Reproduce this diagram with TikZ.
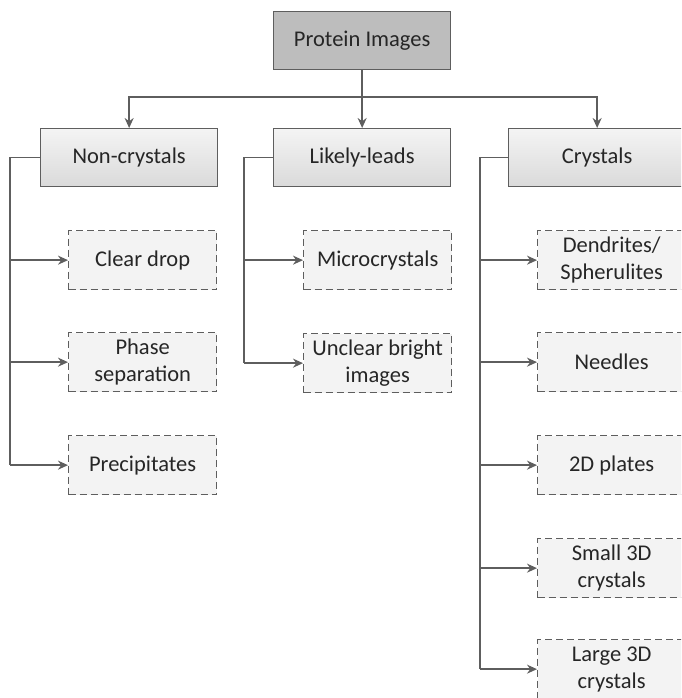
\documentclass[tikz,border=0pt]{standalone}
\usepackage{fontspec}
\setmainfont{Carlito}
\usetikzlibrary{arrows.meta}
\definecolor{edge}{HTML}{5E5E5E}
\definecolor{topfill}{HTML}{BDBDBD}
\definecolor{midtop}{HTML}{F4F4F4}
\definecolor{midbot}{HTML}{DADADA}
\definecolor{leaffill}{HTML}{F3F3F3}
\definecolor{txt}{HTML}{262626}
\tikzset{
  base/.style={draw=edge, line width=1.3pt, text=txt, align=center,
    font=\fontsize{22.5}{27}\selectfont, inner sep=0pt, anchor=north west},
  rootbox/.style={base, fill=topfill, minimum width=177pt, minimum height=58pt},
  catbox/.style={base, top color=midtop, bottom color=midbot, minimum width=177pt, minimum height=58pt},
  leafbox/.style={base, dashed, dash pattern=on 7pt off 4pt, fill=leaffill, minimum width=148pt, minimum height=59pt},
  conn/.style={draw=edge, line width=1.5pt},
  arr/.style={conn, -{Stealth[length=10pt,width=9pt]}}
}
\begin{document}
\begin{tikzpicture}[x=1pt,y=-1pt]
\useasboundingbox (0,0) rectangle (681,698);
\clip (0,0) rectangle (681,698);
\fill[white] (0,0) rectangle (681,698);

\node[rootbox] (root) at (273,11) {Protein Images};
\node[catbox] (non) at (40,128) {Non-crystals};
\node[catbox] (lik) at (273,128) {Likely-leads};
\node[catbox] (cry) at (508,128) {Crystals};

\node[leafbox] (clear) at (68,230) {Clear drop};
\node[leafbox] (phase) at (68,332) {Phase\\separation};
\node[leafbox] (prec) at (68,435) {Precipitates};

\node[leafbox] (micro) at (303,230) {Microcrystals};
\node[leafbox] (uncl) at (303,333) {Unclear bright\\images};

\node[leafbox] (dend) at (537,230) {Dendrites/\\Spherulites};
\node[leafbox] (need) at (537,332) {Needles};
\node[leafbox] (plat) at (537,435) {2D plates};
\node[leafbox] (small) at (537,538) {Small 3D\\crystals};
\node[leafbox] (large) at (537,639) {Large 3D\\crystals};

% root to categories
\coordinate (bar) at (0,97);
\draw[arr] (root.south) -- (root.south |- bar) -| (non.north);
\draw[arr] (root.south |- bar) -| (cry.north);
\draw[arr] (root.south) -- (lik.north);

% non-crystals tree
\coordinate (nx) at (10,0);
\draw[conn] (non.west) -- (non.west -| nx) -- (nx |- prec.west);
\draw[arr] (nx |- clear.west) -- (clear.west);
\draw[arr] (nx |- phase.west) -- (phase.west);
\draw[arr] (nx |- prec.west) -- (prec.west);

% likely-leads tree
\coordinate (lx) at (244,0);
\draw[conn] (lik.west) -- (lik.west -| lx) -- (lx |- uncl.west);
\draw[arr] (lx |- micro.west) -- (micro.west);
\draw[arr] (lx |- uncl.west) -- (uncl.west);

% crystals tree
\coordinate (cx) at (480,0);
\draw[conn] (cry.west) -- (cry.west -| cx) -- (cx |- large.west);
\draw[arr] (cx |- dend.west) -- (dend.west);
\draw[arr] (cx |- need.west) -- (need.west);
\draw[arr] (cx |- plat.west) -- (plat.west);
\draw[arr] (cx |- small.west) -- (small.west);
\draw[arr] (cx |- large.west) -- (large.west);
\end{tikzpicture}
\end{document}
